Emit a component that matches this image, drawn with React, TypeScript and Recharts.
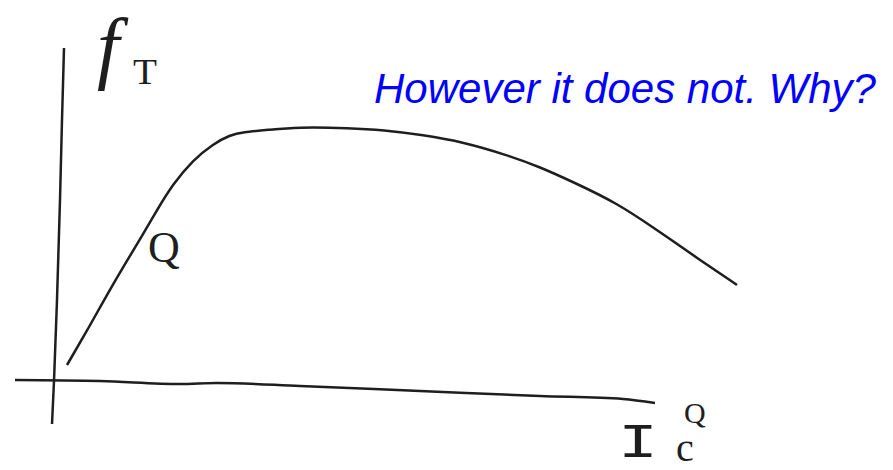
import React from 'react';
import { LineChart, Line, XAxis, YAxis } from 'recharts';

// fT vs quiescent collector current, sketched in arbitrary units
const icValues = [0.9, 3.0, 5.0, 6.7, 8.4, 9.9, 11.5, 13.5, 15.5, 17.2, 18.5, 20.9, 23.9, 29.2, 32.5, 36.5, 40.5, 44.9, 48.2, 51.5, 55.9, 59.9, 64.2, 67.9];
const ftValues = [1.7, 5.3, 8.9, 11.8, 14.6, 17.2, 19.8, 22.2, 23.8, 24.7, 25.0, 25.2, 25.5, 25.4, 25.2, 24.7, 24.0, 22.7, 21.5, 20.0, 17.9, 15.2, 12.2, 9.7];

// hand-drawn axes
const vAxisX = [-0.6, -0.4, -0.1, 0.2, 0.4, 0.6];
const vAxisY = [-4.2, 0.1, 8.2, 18.2, 26.2, 33.4];
const hAxisX = [-4.3, 4.2, 12.2, 15.9, 24.2, 36.2, 48.2, 56.5, 59.7];
const hAxisY = [0.2, 0.1, -0.2, -0.1, -0.4, -0.9, -1.4, -1.7, -2.1];

// one table keyed by x, each series only fills its own rows
type Row = { x: number; ft?: number; vAxis?: number; hAxis?: number };
const rows: Row[] = [];
const put = (xs: number[], ys: number[], key: 'ft' | 'vAxis' | 'hAxis') => {
  xs.forEach((x, i) => {
    let row = rows.find((r) => r.x === x);
    if (!row) {
      row = { x };
      rows.push(row);
    }
    row[key] = ys[i];
  });
};
put(icValues, ftValues, 'ft');
put(vAxisX, vAxisY, 'vAxis');
put(hAxisX, hAxisY, 'hAxis');
rows.sort((a, b) => a.x - b.x);

const ink = '#1e1e1e';
const W = 893;
const H = 470;

export default function App() {
  return (
    <div style={{ position: 'relative', width: W, height: H, background: '#fff' }}>
      <style>{'body{margin:0}'}</style>
      <LineChart width={W} height={H} data={rows} margin={{ top: 0, right: 0, bottom: 0, left: 0 }}>
        <XAxis type="number" dataKey="x" domain={[-5.8, 83.5]} hide allowDataOverflow />
        <YAxis type="number" domain={[-8.8, 38.2]} hide allowDataOverflow />
        <Line dataKey="vAxis" type="linear" connectNulls stroke={ink} strokeWidth={2.5} dot={false} activeDot={false} isAnimationActive={false} />
        <Line dataKey="hAxis" type="monotone" connectNulls stroke={ink} strokeWidth={2.5} dot={false} activeDot={false} isAnimationActive={false} />
        <Line dataKey="ft" type="basis" connectNulls stroke={ink} strokeWidth={2.5} dot={false} activeDot={false} isAnimationActive={false} />
      </LineChart>
      <svg width={W} height={H} style={{ position: 'absolute', left: 0, top: 0, pointerEvents: 'none' }}>
        <g fill={ink} fontFamily="'Liberation Serif', serif">
          <text x={97} y={74} fontSize={80} fontStyle="italic">f</text>
          <text x={133} y={84} fontSize={36} textLength={24} lengthAdjust="spacingAndGlyphs">T</text>
          <text x={148} y={262} fontSize={44}>Q</text>
          <text x={684} y={423} fontSize={30}>Q</text>
          <text x={676} y={461} fontSize={40}>c</text>
        </g>
        <text x={618} y={457} fontSize={48} fill={ink} fontFamily="'Liberation Mono', monospace" textLength={40} lengthAdjust="spacingAndGlyphs">I</text>
        <text x={374} y={103} fontSize={42} fontStyle="italic" fill="#0000ff" fontFamily="'Liberation Sans', Arial, sans-serif">
          However it does not. Why?
        </text>
      </svg>
    </div>
  );
}
